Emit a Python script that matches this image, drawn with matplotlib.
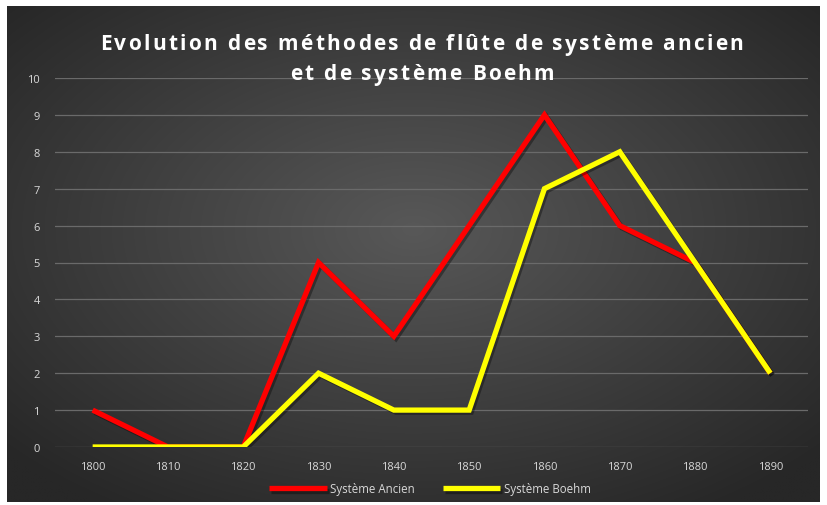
import numpy as np
import matplotlib
matplotlib.use("Agg")
import matplotlib.pyplot as plt
import matplotlib.patheffects as pe
from matplotlib.font_manager import FontProperties

years = ["1800", "1810", "1820", "1830", "1840", "1850", "1860", "1870", "1880", "1890"]
ancien = [1, 0, 0, 5, 3, 6, 9, 6, 5, 2]
boehm = [0, 0, 0, 2, 1, 1, 7, 8, 5, 2]
title_lines = ["Evolution des méthodes de flûte de système ancien", "et de système Boehm"]

W, H = 827, 506
fig = plt.figure(figsize=(W / 100, H / 100), dpi=100)
fig.patch.set_facecolor("white")

# background panel with radial gradient
l, r, t, b = 7, 820, 7, 503
bg = fig.add_axes([l / W, 1 - b / H, (r - l) / W, (b - t) / H])
yy, xx = np.mgrid[-1:1:300j, -1:1:500j]
d = np.sqrt(xx ** 2 + (yy + 0.1) ** 2)
d = np.clip(d / 1.35, 0, 1)
c0 = np.array([0x58, 0x58, 0x58]) / 255
c1 = np.array([0x27, 0x27, 0x27]) / 255
img = c0[None, None, :] * (1 - d[..., None]) + c1[None, None, :] * d[..., None]
bg.imshow(img, aspect="auto", extent=[0, 1, 0, 1], interpolation="bilinear")
bg.axis("off")

# plot area
pl, pr, pt, pb = 55, 808, 79, 448
ax = fig.add_axes([pl / W, 1 - pb / H, (pr - pl) / W, (pb - pt) / H])
ax.set_facecolor("none")
x = np.arange(len(years))
shadow = [pe.SimpleLineShadow(offset=(1.5, -1.5), shadow_color="black", alpha=0.35), pe.Normal()]
ax.plot(x, ancien, color="#ff0000", lw=3.8, solid_joinstyle="miter", solid_capstyle="butt",
        label="Système Ancien", path_effects=shadow, zorder=3)
ax.plot(x, boehm, color="#ffff00", lw=3.8, solid_joinstyle="miter", solid_capstyle="butt",
        label="Système Boehm", path_effects=shadow, zorder=4)
ax.set_xlim(-0.5, len(years) - 0.5)
ax.set_ylim(0, 10)
ax.set_yticks(range(0, 11))
ax.set_xticks(x)
ax.set_xticklabels(years)
ax.grid(axis="y", color="#6a6a6a", lw=0.9)
ax.set_axisbelow(True)
for s in ax.spines.values():
    s.set_visible(False)
ax.tick_params(length=0, colors="#d9d9d9", labelsize=8, pad=10)
ax.tick_params(axis="y", pad=11)
for lab in ax.get_xticklabels() + ax.get_yticklabels():
    lab.set_family("Open Sans")

# title with letter spacing
fp = FontProperties(family="Open Sans", weight="bold", size=15)
renderer = fig.canvas.get_renderer()
spacing = 2.3
centers_y = [45, 75]
cx = 422
for line, cy in zip(title_lines, centers_y):
    widths = []
    for ch in line:
        if ch == " ":
            w, _, _ = renderer.get_text_width_height_descent("a a", fp, ismath=False)
            w2, _, _ = renderer.get_text_width_height_descent("aa", fp, ismath=False)
            widths.append(w - w2)
        else:
            w, _, _ = renderer.get_text_width_height_descent(ch, fp, ismath=False)
            widths.append(w)
    total = sum(widths) + spacing * (len(line) - 1)
    xpos = cx - total / 2
    for ch, w in zip(line, widths):
        if ch != " ":
            fig.text(xpos / W, 1 - cy / H, ch, ha="left", va="center", color="white",
                     fontproperties=fp)
        xpos += w + spacing

leg = fig.legend(loc="center", bbox_to_anchor=(430 / W, 1 - 490 / H), ncol=2, frameon=False,
                 labelcolor="#d9d9d9", handlelength=5.0, columnspacing=2.4,
                 handletextpad=0.3, prop={"family": "Open Sans", "size": 8.3})
fig.savefig("out.png", dpi=100, facecolor="white")
